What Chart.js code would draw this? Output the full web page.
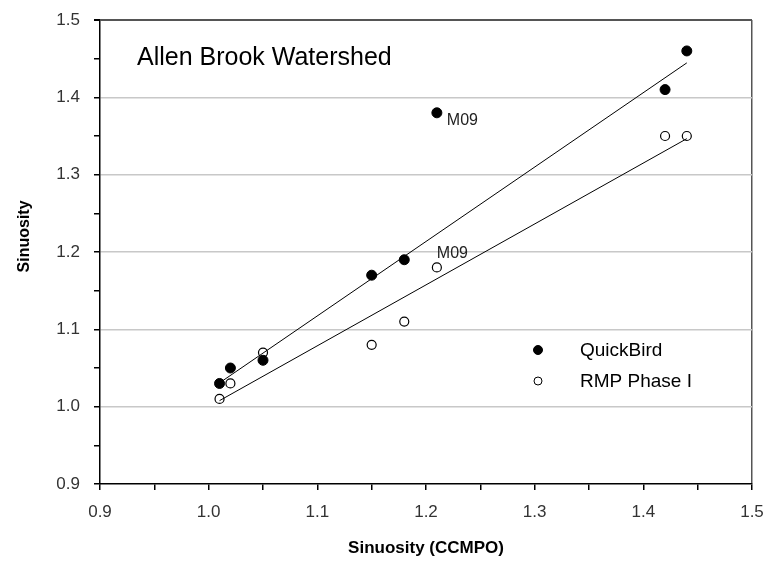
<!DOCTYPE html>
<html>
<head>
<meta charset="utf-8">
<script src="https://cdn.jsdelivr.net/npm/chart.js@4.4.1/dist/chart.umd.min.js"></script>
<style>
  html, body { margin: 0; padding: 0; background: #fff; }
  #wrap { width: 769px; height: 565px; }
</style>
</head>
<body>
<div id="wrap"><canvas id="chart" width="769" height="565"></canvas></div>
<script>
// values
const sinuosityCCMPO = [1.01, 1.02, 1.05, 1.15, 1.18, 1.21, 1.42, 1.44];
const quickBird      = [1.03, 1.05, 1.06, 1.17, 1.19, 1.38, 1.41, 1.46];
const rmpPhaseI      = [1.01, 1.03, 1.07, 1.08, 1.11, 1.18, 1.35, 1.35];
const pointLabels    = ['', '', '', '', '', 'M09', '', ''];
const xTicks = [0.9, 1.0, 1.1, 1.2, 1.3, 1.4, 1.5];
const yTicks = [0.9, 1.0, 1.1, 1.2, 1.3, 1.4, 1.5];

const FONT = 'Arial, "Liberation Sans", sans-serif';

function toPoints(ys) {
    return sinuosityCCMPO.map((x, i) => ({ x: x, y: ys[i] }));
}

// least squares fit, the labelled outlier (M09) left out
function trend(ys) {
    const idx = sinuosityCCMPO.map((x, i) => i).filter(i => !pointLabels[i]);
    const n = idx.length;
    const mx = idx.reduce((s, i) => s + sinuosityCCMPO[i], 0) / n;
    const my = idx.reduce((s, i) => s + ys[i], 0) / n;
    let sxy = 0, sxx = 0;
    idx.forEach(i => {
        sxy += (sinuosityCCMPO[i] - mx) * (ys[i] - my);
        sxx += (sinuosityCCMPO[i] - mx) ** 2;
    });
    const b = sxy / sxx, a = my - b * mx;
    const xs = idx.map(i => sinuosityCCMPO[i]);
    const x0 = Math.min(...xs), x1 = Math.max(...xs);
    return [{ x: x0, y: a + b * x0 }, { x: x1, y: a + b * x1 }];
}

function isMajor(v, list) {
    return list.some(t => Math.abs(t - v) < 1e-6);
}

const insideText = {
    id: 'insideText',
    afterDatasetsDraw(chart) {
        const { ctx, chartArea: ca, scales } = chart;
        ctx.save();
        // title inside plot
        ctx.fillStyle = '#000';
        ctx.font = '25px ' + FONT;
        ctx.textBaseline = 'middle';
        ctx.textAlign = 'left';
        ctx.fillText('Allen Brook Watershed', ca.left + 37, ca.top + 38);

        // M09 labels
        ctx.font = '16px ' + FONT;
        ctx.fillStyle = '#222';
        pointLabels.forEach((lab, i) => {
            if (!lab) return;
            const px = scales.x.getPixelForValue(sinuosityCCMPO[i]);
            ctx.textBaseline = 'middle';
            ctx.fillText(lab, px + 10, scales.y.getPixelForValue(quickBird[i]) + 8);
            ctx.textBaseline = 'alphabetic';
            ctx.fillText(lab, px, scales.y.getPixelForValue(rmpPhaseI[i]) - 9);
        });

        // legend
        const lx = ca.left + 438;
        const items = [
            { text: 'QuickBird', fill: '#000', y: ca.top + 330 },
            { text: 'RMP Phase I', fill: '#fff', y: ca.top + 361 }
        ];
        ctx.font = '19px ' + FONT;
        ctx.textBaseline = 'middle';
        items.forEach(it => {
            ctx.beginPath();
            ctx.arc(lx, it.y, it.fill === '#000' ? 4.5 : 4, 0, Math.PI * 2);
            ctx.fillStyle = it.fill;
            ctx.fill();
            ctx.lineWidth = 1;
            ctx.strokeStyle = '#000';
            ctx.stroke();
            ctx.fillStyle = '#000';
            ctx.fillText(it.text, lx + 42, it.y + 1);
        });
        ctx.restore();
    }
};

new Chart(document.getElementById('chart').getContext('2d'), {
    type: 'scatter',
    data: {
        datasets: [
            {
                label: 'QuickBird trend',
                type: 'line',
                data: trend(quickBird),
                borderColor: '#000',
                borderWidth: 1,
                pointRadius: 0,
                fill: false
            },
            {
                label: 'RMP Phase I trend',
                type: 'line',
                data: trend(rmpPhaseI),
                borderColor: '#000',
                borderWidth: 1,
                pointRadius: 0,
                fill: false
            },
            {
                label: 'QuickBird',
                data: toPoints(quickBird),
                pointRadius: 5,
                pointBackgroundColor: '#000',
                pointBorderColor: '#000',
                pointBorderWidth: 1
            },
            {
                label: 'RMP Phase I',
                data: toPoints(rmpPhaseI),
                pointRadius: 4.5,
                pointBackgroundColor: '#fff',
                pointBorderColor: '#000',
                pointBorderWidth: 1.2
            }
        ]
    },
    options: {
        responsive: false,
        animation: false,
        layout: { padding: { left: 0, right: 17, top: 20, bottom: 0 } },
        plugins: {
            legend: { display: false },
            tooltip: { enabled: false }
        },
        scales: {
            x: {
                type: 'linear',
                min: 0.9,
                max: 1.5,
                afterFit: s => {
                    s.height = 81;
                    s.paddingLeft = 0;
                    s.paddingRight = 0;
                },
                border: { display: true, color: '#000', width: 1.5 },
                grid: {
                    color: c => Math.abs(c.tick.value - 1.5) < 1e-6 ? '#555' : 'transparent',
                    lineWidth: 1.5,
                    tickColor: '#000',
                    tickLength: 6
                },
                ticks: {
                    stepSize: 0.05,
                    autoSkip: false,
                    maxRotation: 0,
                    padding: 12,
                    color: '#333',
                    font: { family: FONT, size: 17 },
                    callback: v => isMajor(v, xTicks) ? v.toFixed(1) : ''
                },
                title: {
                    display: true,
                    text: 'Sinuosity (CCMPO)',
                    color: '#000',
                    font: { family: FONT, size: 17, weight: 'bold' },
                    padding: { top: 0, bottom: 6 }
                }
            },
            y: {
                type: 'linear',
                min: 0.9,
                max: 1.5,
                afterFit: s => {
                    s.width = 100;
                    s.paddingTop = 0;
                    s.paddingBottom = 0;
                },
                border: { display: true, color: '#000', width: 1.5 },
                grid: {
                    color: c => {
                        const v = c.tick.value;
                        if (Math.abs(v - 1.5) < 1e-6) return '#555';
                        if (Math.abs(v - 0.9) < 1e-6) return 'transparent';
                        return isMajor(v, yTicks) ? '#c8c8c8' : 'transparent';
                    },
                    lineWidth: c => Math.abs(c.tick.value - 1.5) < 1e-6 ? 2 : 1.5,
                    tickColor: '#000',
                    tickLength: 6
                },
                ticks: {
                    stepSize: 0.05,
                    autoSkip: false,
                    padding: 14,
                    color: '#333',
                    font: { family: FONT, size: 17 },
                    callback: v => isMajor(v, yTicks) ? v.toFixed(1) : ''
                },
                title: {
                    display: true,
                    text: '       Sinuosity',
                    color: '#000',
                    font: { family: FONT, size: 16, weight: 'bold' },
                    padding: { top: 15, bottom: 0 }
                }
            }
        }
    },
    plugins: [insideText]
});
</script>
</body>
</html>
